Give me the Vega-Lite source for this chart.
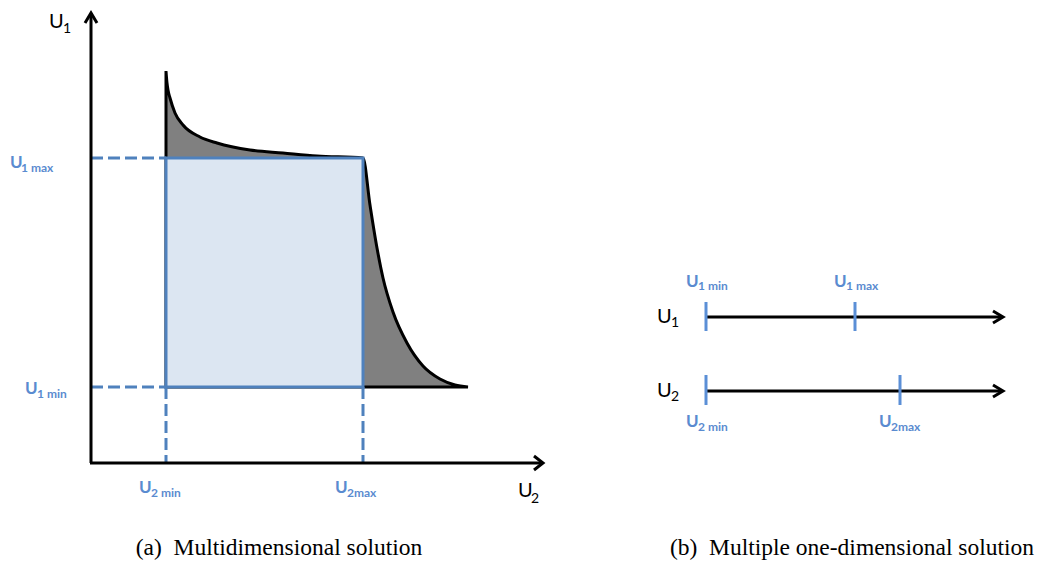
{
  "$schema": "https://vega.github.io/schema/vega-lite/v6.json",
  "width": 1043,
  "height": 563,
  "padding": 0,
  "autosize": {"type": "fit", "contains": "padding"},
  "background": "white",
  "config": {"view": {"stroke": null}},
  "datasets": {
    "shape": [
      {"x": 166, "y": 71}, {"x": 167, "y": 83}, {"x": 168, "y": 90}, {"x": 170, "y": 98},
      {"x": 175, "y": 113}, {"x": 183, "y": 125}, {"x": 200, "y": 137}, {"x": 217, "y": 143},
      {"x": 250, "y": 150}, {"x": 283, "y": 153}, {"x": 317, "y": 156}, {"x": 363, "y": 158},
      {"x": 370, "y": 205}, {"x": 377, "y": 248}, {"x": 383, "y": 278}, {"x": 393, "y": 312},
      {"x": 407, "y": 343}, {"x": 423, "y": 366}, {"x": 440, "y": 379}, {"x": 455, "y": 385},
      {"x": 468, "y": 387}
    ],
    "box": [{"x": 166, "x2": 363, "y": 158, "y2": 387}],
    "dashes": [
      {"x": 91, "x2": 166, "y": 158, "y2": 158},
      {"x": 91, "x2": 166, "y": 387, "y2": 387},
      {"x": 166, "x2": 166, "y": 387, "y2": 463},
      {"x": 363, "x2": 363, "y": 387, "y2": 463}
    ],
    "ticks": [
      {"x": 706, "y": 302, "y2": 331},
      {"x": 855, "y": 302, "y2": 331},
      {"x": 706, "y": 375, "y2": 405},
      {"x": 900, "y": 375, "y2": 405}
    ],
    "paths": [
      {"id": "yaxis", "o": 1, "x": 91, "y": 463}, {"id": "yaxis", "o": 2, "x": 91, "y": 13},
      {"id": "yarrow", "o": 1, "x": 85, "y": 23}, {"id": "yarrow", "o": 2, "x": 91, "y": 13}, {"id": "yarrow", "o": 3, "x": 97, "y": 23},
      {"id": "xaxis", "o": 1, "x": 90, "y": 463}, {"id": "xaxis", "o": 2, "x": 542, "y": 463},
      {"id": "xarrow", "o": 1, "x": 534, "y": 456}, {"id": "xarrow", "o": 2, "x": 543, "y": 463}, {"id": "xarrow", "o": 3, "x": 534, "y": 470},
      {"id": "r1", "o": 1, "x": 706, "y": 317}, {"id": "r1", "o": 2, "x": 1002, "y": 317},
      {"id": "r1arrow", "o": 1, "x": 993, "y": 311}, {"id": "r1arrow", "o": 2, "x": 1003, "y": 317}, {"id": "r1arrow", "o": 3, "x": 993, "y": 323},
      {"id": "r2", "o": 1, "x": 706, "y": 391}, {"id": "r2", "o": 2, "x": 1002, "y": 391},
      {"id": "r2arrow", "o": 1, "x": 993, "y": 385}, {"id": "r2arrow", "o": 2, "x": 1003, "y": 391}, {"id": "r2arrow", "o": 3, "x": 993, "y": 397}
    ],
    "blueU": [
      {"t": "U", "x": 10, "y": 168}, {"t": "U", "x": 25, "y": 394},
      {"t": "U", "x": 139, "y": 493}, {"t": "U", "x": 335, "y": 493},
      {"t": "U", "x": 686, "y": 287}, {"t": "U", "x": 834, "y": 287},
      {"t": "U", "x": 686, "y": 427}, {"t": "U", "x": 879, "y": 427}
    ],
    "blueSub": [
      {"t": "1 max", "x": 21, "y": 172}, {"t": "1 min", "x": 37, "y": 398},
      {"t": "2 min", "x": 151, "y": 497}, {"t": "2max", "x": 347, "y": 497},
      {"t": "1 min", "x": 698, "y": 290}, {"t": "1 max", "x": 846, "y": 290},
      {"t": "2 min", "x": 698, "y": 431}, {"t": "2max", "x": 891, "y": 431}
    ],
    "blackU": [
      {"t": "U", "x": 49, "y": 28}, {"t": "U", "x": 518, "y": 497},
      {"t": "U", "x": 657, "y": 323}, {"t": "U", "x": 657, "y": 397}
    ],
    "blackSub": [
      {"t": "1", "x": 63, "y": 33}, {"t": "2", "x": 531, "y": 503},
      {"t": "1", "x": 671, "y": 327}, {"t": "2", "x": 671, "y": 401}
    ],
    "captions": [
      {"t": "(a)\u00a0 Multidimensional solution", "x": 279, "y": 555},
      {"t": "(b)\u00a0 Multiple one-dimensional solution", "x": 852, "y": 555}
    ]
  },
  "layer": [
    {
      "data": {"name": "shape"},
      "mark": {"type": "area", "fill": "#808080", "stroke": "#000000", "strokeWidth": 3, "interpolate": "monotone", "strokeJoin": "miter"},
      "encoding": {
        "x": {"field": "x", "type": "quantitative", "scale": {"domain": [0, 1043], "nice": false, "zero": false}, "axis": null},
        "y": {"field": "y", "type": "quantitative", "scale": {"domain": [0, 563], "nice": false, "zero": false, "reverse": true}, "axis": null},
        "y2": {"datum": 387}
      }
    },
    {
      "data": {"name": "box"},
      "mark": {"type": "rect", "fill": "#dce6f2", "stroke": "#4f81bd", "strokeWidth": 3},
      "encoding": {
        "x": {"field": "x", "type": "quantitative"}, "x2": {"field": "x2"},
        "y": {"field": "y", "type": "quantitative"}, "y2": {"field": "y2"}
      }
    },
    {
      "data": {"name": "dashes"},
      "mark": {"type": "rule", "stroke": "#4f81bd", "strokeWidth": 3, "strokeDash": [12, 5]},
      "encoding": {
        "x": {"field": "x", "type": "quantitative"}, "x2": {"field": "x2"},
        "y": {"field": "y", "type": "quantitative"}, "y2": {"field": "y2"}
      }
    },
    {
      "data": {"name": "paths"},
      "mark": {"type": "line", "stroke": "#000000", "strokeWidth": 3, "strokeJoin": "miter", "strokeCap": "butt"},
      "encoding": {
        "x": {"field": "x", "type": "quantitative"},
        "y": {"field": "y", "type": "quantitative"},
        "detail": {"field": "id"},
        "order": {"field": "o"}
      }
    },
    {
      "data": {"name": "ticks"},
      "mark": {"type": "rule", "stroke": "#5b8fd6", "strokeWidth": 3},
      "encoding": {
        "x": {"field": "x", "type": "quantitative"},
        "y": {"field": "y", "type": "quantitative"}, "y2": {"field": "y2"}
      }
    },
    {
      "data": {"name": "blueU"},
      "mark": {"type": "text", "font": "Lato", "fontSize": 17, "fontWeight": "bold", "fill": "#5a8bd0", "align": "left", "baseline": "alphabetic"},
      "encoding": {"x": {"field": "x", "type": "quantitative"}, "y": {"field": "y", "type": "quantitative"}, "text": {"field": "t"}}
    },
    {
      "data": {"name": "blueSub"},
      "mark": {"type": "text", "font": "Lato", "fontSize": 12, "fontWeight": "bold", "fill": "#5a8bd0", "align": "left", "baseline": "alphabetic"},
      "encoding": {"x": {"field": "x", "type": "quantitative"}, "y": {"field": "y", "type": "quantitative"}, "text": {"field": "t"}}
    },
    {
      "data": {"name": "blackU"},
      "mark": {"type": "text", "font": "Lato", "fontSize": 20, "fill": "#000000", "align": "left", "baseline": "alphabetic"},
      "encoding": {"x": {"field": "x", "type": "quantitative"}, "y": {"field": "y", "type": "quantitative"}, "text": {"field": "t"}}
    },
    {
      "data": {"name": "blackSub"},
      "mark": {"type": "text", "font": "Lato", "fontSize": 14, "fill": "#000000", "align": "left", "baseline": "alphabetic"},
      "encoding": {"x": {"field": "x", "type": "quantitative"}, "y": {"field": "y", "type": "quantitative"}, "text": {"field": "t"}}
    },
    {
      "data": {"name": "captions"},
      "mark": {"type": "text", "font": "Liberation Serif", "fontSize": 23.5, "fill": "#000000", "align": "center", "baseline": "alphabetic"},
      "encoding": {"x": {"field": "x", "type": "quantitative"}, "y": {"field": "y", "type": "quantitative"}, "text": {"field": "t"}}
    }
  ]
}
